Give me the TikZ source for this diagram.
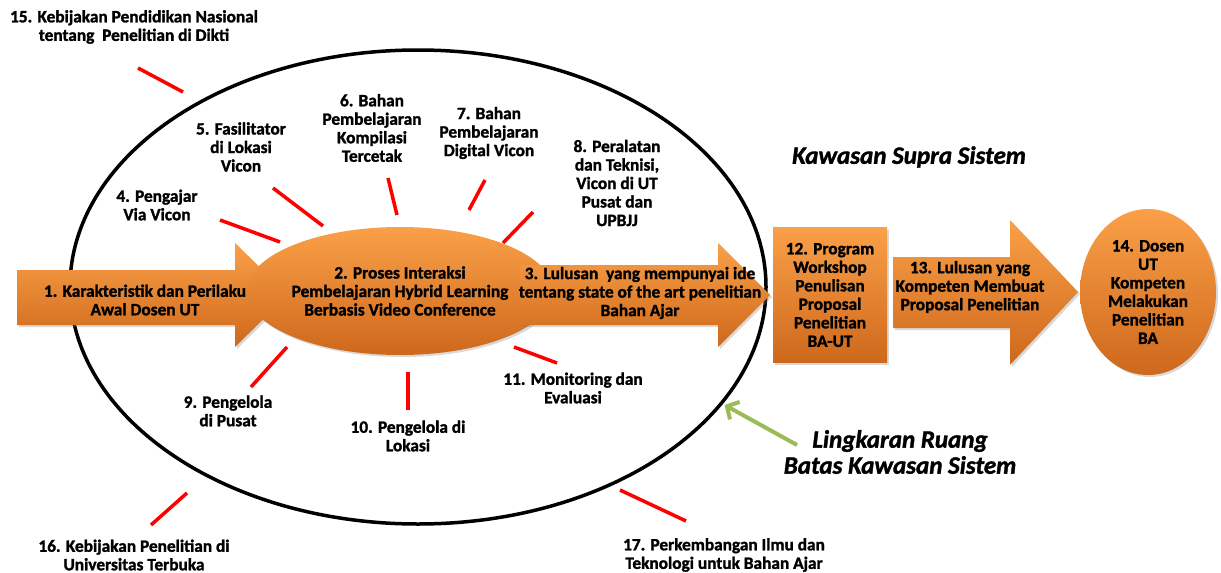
\documentclass[tikz,border=0pt]{standalone}
\usepackage{fontspec}
\setmainfont{Carlito}[BoldFeatures={FakeBold=1.5},BoldItalicFeatures={FakeBold=1.5}]
\usepackage{tikz}
\usetikzlibrary{arrows.meta,shapes.geometric,shadows}
\definecolor{blocktop}{RGB}{250,160,72}
\definecolor{blockbot}{RGB}{206,104,28}
\definecolor{tickred}{RGB}{255,0,0}
\definecolor{pointgreen}{RGB}{155,187,89}

\begin{document}
\begin{tikzpicture}[x=1pt, y=-1pt,
  every node/.style={font=\bfseries\fontsize{17.3}{18.5}\selectfont, align=center, inner sep=0pt},
  blockfill/.style={top color=blocktop, bottom color=blockbot, drop shadow={opacity=0.3, shadow xshift=2pt, shadow yshift=-2pt}},
  tick/.style={tickred, line width=3.5pt},
  zone/.style={font=\bfseries\itshape\fontsize{25}{26}\selectfont}]
\useasboundingbox (0,0) rectangle (1221,573);
\node[draw, ellipse, line width=3.5pt, minimum width=696pt, minimum height=474pt] (sistem) at (418,287) {};
\path[blockfill] (17,270) -- (235,270) -- (235,243) -- (288,295) -- (235,347) -- (235,325) -- (17,325) -- cycle;
\node[ellipse, blockfill, minimum width=250pt, minimum height=128pt] (proses) at (400,291) {2. Proses Interaksi\\Pembelajaran Hybrid Learning\\Berbasis Video Conference};
\path[blockfill] (520,265) -- (718,265) -- (718,243) -- (770,295) -- (718,347) -- (718,325) -- (520,325) -- cycle;
\path[blockfill] (893,257) -- (1010,257) -- (1010,220) -- (1078,292) -- (1010,365) -- (1010,328) -- (893,328) -- cycle;
\node (karakteristik) at (145,300) {1. Karakteristik dan Perilaku\\Awal Dosen UT};
\node (lulusan) at (640,293) {3. Lulusan\ \ yang mempunyai ide\\tentang state of the art penelitian\\Bahan Ajar};
\node[rectangle, blockfill, minimum width=114pt, minimum height=135pt] (program) at (830,295) {12. Program\\Workshop\\Penulisan\\Proposal\\Penelitian\\BA-UT};
\node (kompeten) at (970,287) {13. Lulusan yang\\Kompeten Membuat\\Proposal Penelitian};
\node[ellipse, blockfill, minimum width=136pt, minimum height=166pt] (dosen) at (1148,292) {14. Dosen\\UT\\Kompeten\\Melakukan\\Penelitian\\BA};
\node (pengajar) at (157,205) {4. Pengajar\\Via Vicon};
\node (fasilitator) at (241,147) {5. Fasilitator\\di Lokasi\\Vicon};
\node (cetak) at (372,128) {6. Bahan\\Pembelajaran\\Kompilasi\\Tercetak};
\node (digital) at (489,133) {7. Bahan\\Pembelajaran\\Digital Vicon};
\node (peralatan) at (617,183) {8. Peralatan\\dan Teknisi,\\Vicon di UT\\Pusat dan\\UPBJJ};
\node (pusat) at (228,411) {9. Pengelola\\di Pusat};
\node (lokasi) at (408,436) {10. Pengelola di\\Lokasi};
\node (monev) at (573,388) {11. Monitoring dan\\Evaluasi};
\node (dikti) at (134,27) {15. Kebijakan Pendidikan Nasional\\tentang\ \ Penelitian di Dikti};
\node (univ) at (134,555) {16. Kebijakan Penelitian di\\Universitas Terbuka};
\node (iptek) at (724,555) {17. Perkembangan Ilmu dan\\Teknologi untuk Bahan Ajar};
\node[zone] (supra) at (909,157) {Kawasan Supra Sistem};
\node[zone] (batas) at (900,452) {Lingkaran Ruang\\Batas Kawasan Sistem};
\draw[tick] (138,68) -- (183,92);
\draw[tick] (220,220) -- (280,242);
\draw[tick] (273,188) -- (323,226);
\draw[tick] (388,178) -- (397,215);
\draw[tick] (485,180) -- (469,210);
\draw[tick] (533,212) -- (503,243);
\draw[tick] (287,347) -- (251,387);
\draw[tick] (408,372) -- (408,410);
\draw[tick] (514,347) -- (557,363);
\draw[tick] (187,493) -- (151,525);
\draw[tick] (620,490) -- (686,521);
\coordinate (pointer) at (797,445);
\draw[pointgreen, line width=4pt, shorten >=2pt, -{Straight Barb[length=9pt,width=20pt]}] (pointer) -- (sistem.-21);
\end{tikzpicture}
\end{document}
